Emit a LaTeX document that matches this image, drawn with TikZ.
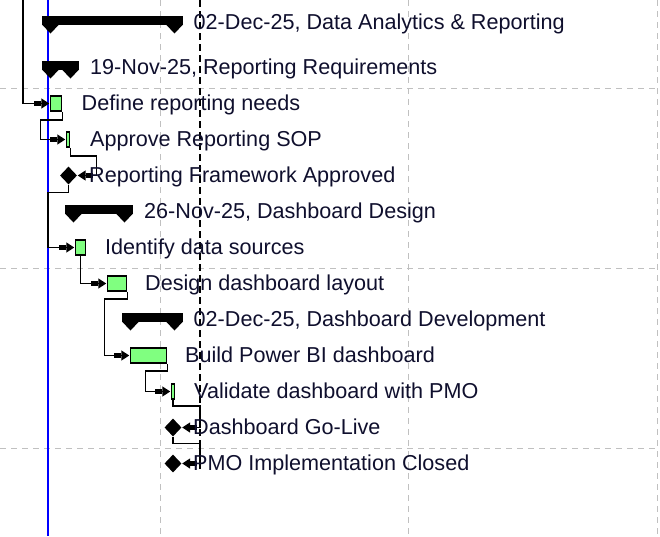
\documentclass[tikz,border=0pt]{standalone}
\usepackage{fontspec}
\setmainfont{Liberation Sans}
\usetikzlibrary{arrows.meta,shapes.geometric}
\definecolor{taskgreen}{RGB}{128,255,128}
\definecolor{gridgray}{RGB}{192,192,192}
\definecolor{txtnavy}{RGB}{15,15,45}
\begin{document}
\begin{tikzpicture}[x=1pt,y=-1pt,font=\fontsize{21.6}{24}\selectfont,
    >={Rectangle[length=7pt,width=4.5pt,sep=0pt]Triangle[length=8pt,width=10pt,sep=0pt]},
    grid/.style={gridgray,line width=1pt,dash pattern=on 6pt off 5pt},
    task/.style={draw,line width=1.5pt,fill=taskgreen,inner sep=0pt,minimum height=15pt},
    mstone/.style={diamond,fill=black,inner sep=0pt,minimum width=17pt,minimum height=18pt},
    link/.style={line width=1.5pt,->,shorten >=0.5pt},
    lbl/.style={anchor=base west,inner sep=0pt,text=txtnavy}]
    \useasboundingbox (0,0) rectangle (660,536);

    % grid
    \foreach \gx in {160,408,657} \draw[grid] (\gx,0) -- (\gx,536);
    \foreach \gy in {88,268,448} \draw[grid] (0,\gy) -- (660,\gy);
    \draw[blue,line width=1.5pt] (48,0) -- (48,536);
    \draw[line width=1.4pt,dash pattern=on 7pt off 4pt] (200,0) -- (200,470);

    % summary bars
    \foreach \xa/\xb/\cy in {42/183/22.5,42/79/67.5,65/133/211.5,122/183/319.5}{
        \fill (\xa,\cy-7) rectangle (\xb,\cy+2);
        \fill (\xa,\cy+2) -- ++(17,0) -- ++(-8.5,9) -- cycle;
        \fill (\xb,\cy+2) -- ++(-17,0) -- ++(8.5,9) -- cycle;
    }

    % tasks and milestones
    \node[task,minimum width=11pt] (def) at (56,103.5) {};
    \node[task,minimum width=3pt] (app) at (68,139.5) {};
    \node[mstone] (fwa) at (68.5,175.5) {};
    \node[task,minimum width=10pt] (ids) at (80.5,247.5) {};
    \node[task,minimum width=19pt] (dsl) at (117,283.5) {};
    \node[task,minimum width=36pt] (bld) at (148.5,355.5) {};
    \node[task,minimum width=3pt] (val) at (173,391.5) {};
    \node[mstone] (gol) at (173,427.5) {};
    \node[mstone] (pmo) at (173,463.5) {};

    % links
    \coordinate (in) at (23,0);
    \draw[link] (in) |- (def.west);
    \draw[link] (def.south east) -- ++(0,8) -- ++(-22,0) |- (app.west);
    \draw[link] (app.south east) -- ++(0,8) -- ++(26,0) |- (fwa.east);
    \draw[link] (fwa.south) -- ++(0,8) -- ++(-20.5,0) |- (ids.west);
    \draw[link] (ids.south) |- (dsl.west);
    \draw[link] (dsl.south east) -- ++(0,7) -- ++(-23,0) |- (bld.west);
    \draw[link] (bld.south east) -- ++(0,7) -- ++(-22,0) |- (val.west);
    \draw[link] (val.south) -- ++(0,6) -- ++(27,0) |- (gol.east);
    \draw[link] (gol.south) -- ++(0,7) -- ++(27,0) |- (pmo.east);

    % labels
    \node[lbl] (l1) at (193.5,29.5) {02-Dec-25, Data Analytics \& Reporting};
    \node[lbl] (l2) at (90,74.5) {19-Nov-25, Reporting Requirements};
    \node[lbl] (l3) at (81.5,110.5) {Define reporting needs};
    \node[lbl] (l4) at (90,146.5) {Approve Reporting SOP};
    \node[lbl] (l5) at (89,182.5) {Reporting Framework Approved};
    \node[lbl] (l6) at (144,218.5) {26-Nov-25, Dashboard Design};
    \node[lbl] (l7) at (105,254.5) {Identify data sources};
    \node[lbl] (l8) at (145,290.5) {Design dashboard layout};
    \node[lbl] (l9) at (193.5,326.5) {02-Dec-25, Dashboard Development};
    \node[lbl] (l10) at (185,362.5) {Build Power BI dashboard};
    \node[lbl] (l11) at (194,398.5) {Validate dashboard with PMO};
    \node[lbl] (l12) at (193,434.5) {Dashboard Go-Live};
    \node[lbl] (l13) at (193,470.5) {PMO Implementation Closed};
\end{tikzpicture}
\end{document}
